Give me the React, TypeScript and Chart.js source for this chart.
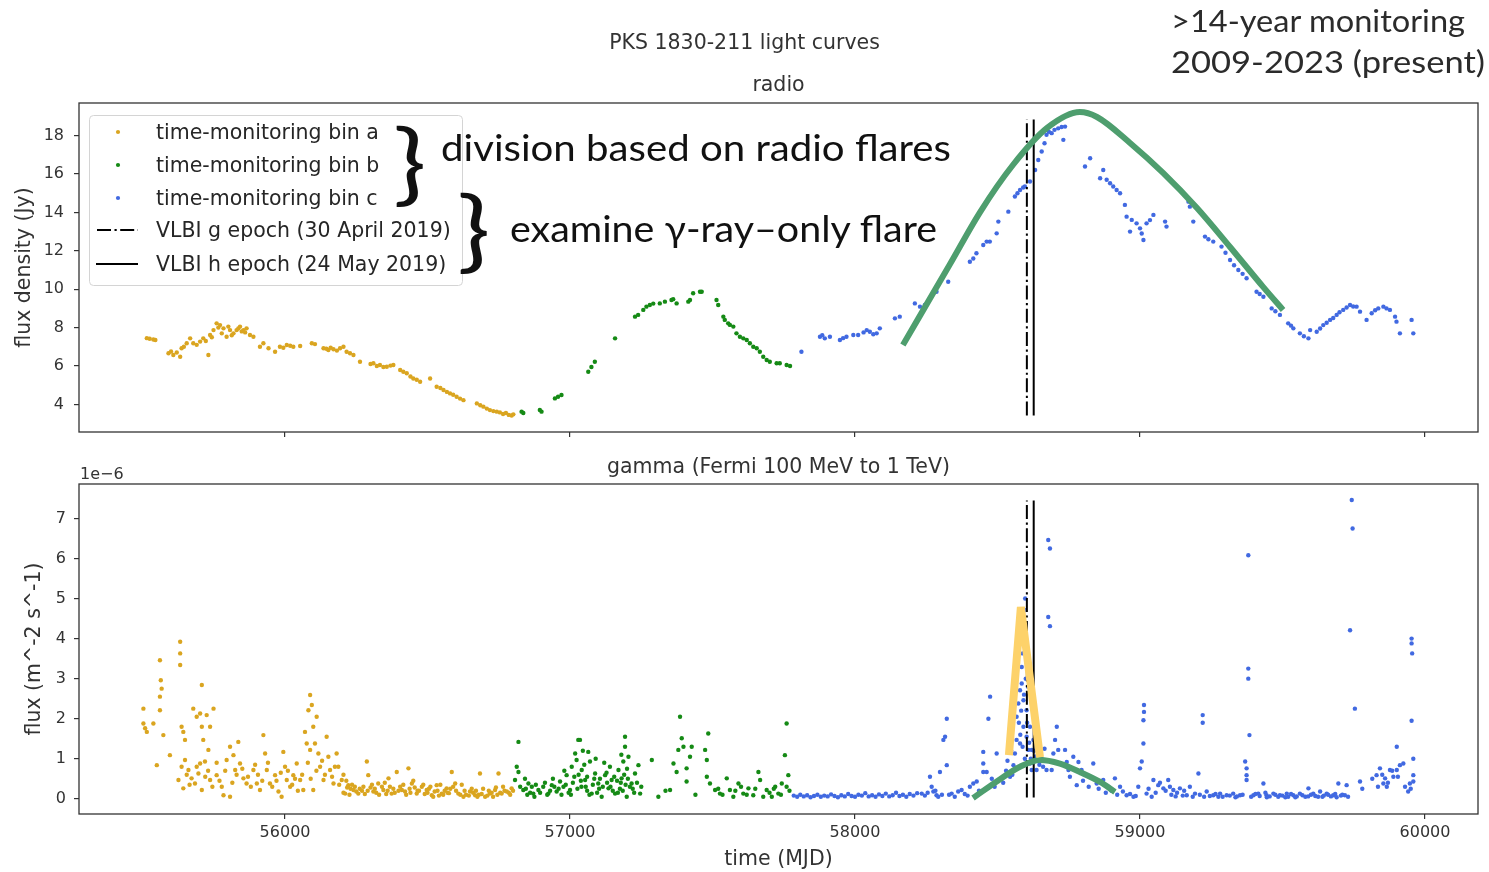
import React, { useEffect, useRef } from "react";
import { Chart, registerables } from "chart.js";

Chart.register(...registerables);

// ---------------- data (MJD, value) ----------------
const radioBinA: [number, number][] = [
  [55515, 7.45], [55525, 7.42], [55538, 7.38], [55545, 7.35],
  [55591, 6.66], [55600, 6.75], [55608, 6.57], [55620, 6.7], [55632, 6.48], [55637, 6.92], [55645, 7.0], [55655, 7.18],
  [55667, 7.44], [55678, 7.18], [55690, 7.1], [55702, 7.27], [55713, 7.44], [55722, 7.3], [55731, 6.57], [55737, 7.61],
  [55743, 7.5], [55749, 7.87], [55760, 8.22], [55766, 8.0], [55772, 8.13], [55778, 7.7], [55784, 7.96], [55795, 7.52],
  [55801, 8.05], [55807, 7.87], [55813, 7.6], [55819, 7.7], [55830, 7.87], [55836, 7.95], [55842, 8.05], [55848, 7.8],
  [55854, 7.87], [55860, 7.75], [55865, 7.96], [55877, 7.61], [55889, 7.52],
  [55912, 7.0], [55924, 7.18], [55942, 6.92], [55965, 6.74], [55982, 7.0], [55994, 6.95], [56006, 7.09], [56018, 7.05],
  [56029, 7.0], [56053, 7.04], [56094, 7.18], [56105, 7.14], [56135, 6.92], [56145, 6.9], [56152, 6.83], [56160, 6.95],
  [56170, 6.87], [56182, 6.8], [56193, 6.92], [56205, 7.0], [56216, 6.74], [56228, 6.66], [56240, 6.57], [56263, 6.22],
  [56300, 6.1], [56310, 6.14], [56322, 6.0], [56333, 6.05], [56345, 5.95], [56357, 5.96], [56370, 6.02], [56380, 6.05],
  [56404, 5.79], [56415, 5.7], [56427, 5.62], [56440, 5.45], [56450, 5.35], [56462, 5.28], [56474, 5.18], [56509, 5.35],
  [56532, 4.92], [56545, 4.85], [56556, 4.75], [56568, 4.65], [56579, 4.57], [56590, 4.5], [56602, 4.4], [56614, 4.3],
  [56626, 4.22], [56673, 4.05], [56685, 3.95], [56696, 3.88], [56708, 3.78], [56719, 3.7], [56731, 3.65], [56743, 3.62],
  [56754, 3.58], [56765, 3.5], [56775, 3.55], [56785, 3.45], [56795, 3.42], [56801, 3.48],
];

const radioBinB: [number, number][] = [
  [56830, 3.62], [56836, 3.55], [56894, 3.71], [56900, 3.62], [56947, 4.31], [56958, 4.4], [56970, 4.49], [57064, 5.7],
  [57075, 5.95], [57087, 6.22], [57158, 7.44], [57228, 8.57], [57239, 8.66], [57257, 8.92], [57268, 9.09], [57280, 9.18],
  [57292, 9.25], [57315, 9.26], [57333, 9.35], [57356, 9.44], [57362, 9.48], [57374, 9.26], [57415, 9.35], [57421, 9.44],
  [57432, 9.79], [57456, 9.87], [57462, 9.87], [57514, 9.44], [57520, 9.18], [57538, 8.57], [57543, 8.4], [57555, 8.22],
  [57561, 8.14], [57573, 8.05], [57584, 7.7], [57596, 7.52], [57608, 7.44], [57620, 7.35], [57631, 7.18], [57643, 7.0],
  [57655, 6.92], [57666, 6.74], [57678, 6.48], [57690, 6.31], [57701, 6.22], [57725, 6.14], [57736, 6.14], [57760, 6.05],
  [57772, 6.0],
];

const radioBinC: [number, number][] = [
  [57812, 6.74], [57877, 7.52], [57885, 7.6], [57894, 7.44], [57912, 7.52], [57947, 7.35], [57958, 7.45], [57970, 7.52],
  [57994, 7.61], [58011, 7.61], [58030, 7.75], [58041, 7.87], [58052, 7.78], [58064, 7.65], [58076, 7.7], [58087, 7.96],
  [58140, 8.48], [58157, 8.57], [58210, 9.26], [58228, 9.09], [58245, 9.18], [58263, 9.52], [58286, 9.87], [58327, 10.39],
  [58403, 11.43], [58415, 11.6], [58426, 11.87], [58450, 12.3], [58462, 12.48], [58473, 12.48], [58497, 12.91],
  [58503, 13.52], [58538, 14.04], [58561, 14.83], [58570, 15.0], [58579, 15.17], [58590, 15.3], [58596, 15.35],
  [58614, 15.61], [58632, 16.21], [58643, 16.73], [58655, 17.17], [58665, 17.6], [58672, 18.04], [58680, 18.2],
  [58690, 18.13], [58700, 18.3], [58713, 18.38], [58725, 18.45], [58737, 18.47], [58731, 17.78], [58807, 16.39],
  [58825, 16.82], [58860, 15.78], [58871, 16.21], [58883, 15.7], [58895, 15.52], [58906, 15.35], [58918, 15.17],
  [58930, 15.0], [58947, 14.39], [58953, 13.78], [58965, 13.0], [58971, 13.61], [58988, 13.43], [59000, 13.17],
  [59006, 12.9], [59012, 12.56], [59023, 13.43], [59035, 13.6], [59047, 13.87], [59088, 13.52], [59093, 13.26],
  [59170, 14.56], [59175, 14.3], [59187, 13.52], [59228, 12.74], [59240, 12.6], [59257, 12.48], [59286, 12.22],
  [59300, 11.9], [59316, 11.52], [59330, 11.25], [59345, 11.0], [59360, 10.8], [59374, 10.57], [59409, 9.87],
  [59420, 9.75], [59433, 9.61], [59462, 9.0], [59475, 8.85], [59491, 8.66], [59520, 8.22], [59530, 8.1], [59538, 7.96],
  [59561, 7.7], [59575, 7.55], [59591, 7.44], [59597, 7.87], [59620, 7.78], [59632, 7.95], [59643, 8.13], [59655, 8.25],
  [59667, 8.4], [59678, 8.5], [59690, 8.66], [59700, 8.8], [59713, 8.92], [59725, 9.05], [59737, 9.18], [59748, 9.1],
  [59760, 9.09], [59772, 8.83], [59795, 8.4], [59813, 8.75], [59825, 8.9], [59836, 9.0], [59854, 9.09], [59865, 9.0],
  [59877, 8.92], [59895, 8.57], [59900, 8.31], [59912, 7.7], [59953, 8.4], [59959, 7.7],
];

// gamma flux in units of 1e-6
const gammaBinA: [number, number][] = [
  [55503, 2.25], [55503, 1.88], [55509, 1.76], [55515, 1.67], [55538, 1.88], [55550, 0.84], [55561, 3.46], [55564, 2.96],
  [55561, 2.55], [55567, 2.75], [55561, 2.21], [55573, 1.59], [55596, 1.09], [55632, 3.92], [55632, 3.63], [55632, 3.34],
  [55637, 1.8], [55643, 1.67], [55649, 1.47], [55649, 0.97], [55637, 0.8], [55661, 0.72], [55626, 0.47], [55643, 0.26],
  [55672, 0.51], [55678, 2.25], [55690, 2.05], [55702, 2.13], [55708, 2.84], [55708, 1.8], [55713, 1.47], [55725, 2.09],
  [55737, 1.8], [55749, 2.25], [55731, 1.22], [55719, 0.93], [55702, 0.88], [55696, 0.63], [55684, 0.38], [55708, 0.22],
  [55737, 0.47], [55760, 0.59], [55778, 0.3], [55784, 0.09], [55807, 0.05], [55795, 0.97], [55807, 1.3], [55819, 1.09],
  [55825, 0.72], [55836, 1.42], [55842, 0.88], [55854, 0.51], [55865, 0.38], [55889, 0.72], [55901, 0.38], [55912, 0.22],
  [55924, 1.59], [55930, 1.13], [55936, 0.72], [55947, 0.38], [55965, 0.59], [55977, 0.18], [55988, 0.05], [55994, 1.17],
  [56000, 0.8], [56006, 0.47], [56018, 0.3], [56029, 0.59], [56041, 0.88], [56053, 0.47], [56064, 0.22], [56070, 1.67],
  [56076, 1.38], [56082, 2.21], [56088, 2.59], [56094, 2.34], [56099, 1.8], [56105, 1.38], [56111, 2.05], [56117, 1.13],
  [56088, 1.22], [56099, 0.22], [56123, 0.8], [56135, 0.47], [56146, 1.55], [56152, 1.05], [56158, 0.72], [56170, 0.38],
  [56181, 1.13], [56187, 0.8], [56199, 0.47], [56211, 0.13], [56222, 0.34], [56240, 0.22], [56257, 0.13], [56275, 0.3],
  [56287, 0.93], [56292, 0.59], [56310, 0.18], [56327, 0.38], [56345, 0.22], [56363, 0.51], [56374, 0.13], [56392, 0.67],
  [56404, 0.3], [56421, 0.18], [56433, 0.76], [56445, 0.38], [56462, 0.13], [56480, 0.3], [56497, 0.22], [56515, 0.09],
  [56532, 0.34], [56550, 0.13], [56567, 0.26], [56585, 0.67], [56597, 0.38], [56608, 0.13], [56626, 0.05], [56649, 0.18],
  [56667, 0.09], [56684, 0.63], [56702, 0.05], [56719, 0.13], [56737, 0.22], [56749, 0.63], [56760, 0.13], [56778, 0.18],
  [56795, 0.26],
  [56230, 0.25], [56250, 0.18], [56270, 0.2], [56300, 0.28], [56320, 0.15], [56340, 0.3], [56355, 0.12], [56380, 0.25],
  [56410, 0.22], [56440, 0.15], [56455, 0.28], [56470, 0.2], [56490, 0.12], [56505, 0.25], [56525, 0.18], [56540, 0.08],
  [56560, 0.2], [56575, 0.14], [56590, 0.3], [56615, 0.1], [56630, 0.2], [56645, 0.08], [56660, 0.15], [56675, 0.05],
  [56690, 0.12], [56710, 0.08], [56725, 0.15], [56745, 0.1], [56770, 0.2], [56785, 0.15],
  [55760, 0.9], [55770, 0.45], [55790, 0.7], [55815, 0.4], [55830, 0.6], [55850, 0.75], [55870, 0.55], [55880, 0.3],
  [55895, 0.85], [55905, 0.6], [55920, 0.45], [55940, 0.9], [55955, 0.3], [55970, 0.45], [55985, 0.65], [56010, 0.7],
  [56025, 0.35], [56035, 0.5], [56045, 0.2], [56060, 0.6], [56080, 0.9], [56090, 0.5], [56110, 0.7], [56130, 0.95],
  [56140, 0.6], [56165, 0.55], [56175, 0.8], [56190, 0.35], [56205, 0.6], [56215, 0.45], [55665, 0.35], [55690, 0.8],
  [55655, 0.6], [55720, 0.55], [55745, 0.3], [55730, 0.7],
  [56205, 0.15], [56218, 0.28], [56226, 0.1], [56235, 0.35], [56245, 0.3], [56262, 0.25], [56280, 0.12], [56290, 0.2],
  [56305, 0.35], [56315, 0.25], [56330, 0.1], [56350, 0.4], [56360, 0.2], [56368, 0.3], [56385, 0.15], [56398, 0.2],
  [56415, 0.35], [56425, 0.1], [56437, 0.25], [56450, 0.45], [56465, 0.2], [56485, 0.35], [56500, 0.15], [56510, 0.3],
  [56520, 0.05], [56535, 0.2], [56545, 0.35], [56555, 0.1], [56570, 0.15], [56580, 0.25], [56600, 0.2], [56620, 0.35],
  [56635, 0.1], [56655, 0.25], [56670, 0.2], [56680, 0.1], [56695, 0.25], [56715, 0.2], [56730, 0.05], [56740, 0.28],
  [56755, 0.15], [56765, 0.3], [56790, 0.1], [56800, 0.2],
];

const gammaBinB: [number, number][] = [
  [56819, 1.42], [56813, 0.8], [56819, 0.67], [56807, 0.47], [56825, 0.3], [56836, 0.22], [56854, 0.38], [56871, 0.13],
  [56889, 0.22], [56906, 0.3], [56924, 0.13], [56936, 0.34], [56953, 0.18], [56965, 0.43], [56977, 0.3], [56988, 0.59],
  [57000, 0.22], [57006, 0.8], [57018, 1.13], [57029, 1.47], [57035, 1.47], [57023, 0.97], [57041, 0.72], [57053, 0.47],
  [57064, 1.17], [57070, 0.93], [57076, 0.13], [57088, 0.63], [57099, 0.38], [57111, 0.05], [57123, 0.59], [57135, 0.26],
  [57146, 0.47], [57158, 0.13], [57170, 0.72], [57181, 0.51], [57187, 0.93], [57193, 1.3], [57193, 1.55], [57199, 0.05],
  [57205, 1.05], [57216, 0.38], [57228, 0.63], [57240, 0.84], [57246, 0.13], [57287, 0.97], [57310, 0.05], [57351, 0.22],
  [57363, 0.88], [57374, 0.67], [57380, 1.22], [57386, 2.05], [57392, 1.51], [57398, 1.3], [57409, 0.43], [57409, 0.76],
  [57421, 1.05], [57427, 1.3], [57480, 0.97], [57474, 1.22], [57485, 1.63], [57480, 0.55], [57491, 0.38], [57509, 0.22],
  [57526, 0.13], [57550, 0.51], [57561, 0.22], [57573, 0.05], [57591, 0.38], [57608, 0.13], [57626, 0.26], [57643, 0.09],
  [57661, 0.67], [57667, 0.47], [57678, 0.05], [57690, 0.22], [57708, 0.05], [57720, 0.3], [57731, 0.13], [57743, 0.38],
  [57754, 1.09], [57760, 1.88], [57766, 0.59], [57760, 0.3],
  [57040, 0.3], [57060, 0.2], [57080, 0.35], [57095, 0.15], [57105, 0.5], [57130, 0.4], [57150, 0.2], [57165, 0.45],
  [57175, 0.25], [57190, 0.6], [57210, 0.3], [57225, 0.15], [57050, 0.85], [57030, 0.6], [57010, 0.4], [56995, 0.15],
  [56980, 0.7], [56960, 0.25], [56940, 0.5], [56930, 0.2], [56880, 0.35], [56860, 0.15], [56845, 0.25], [57140, 0.8],
  [57120, 0.9], [57090, 1.0], [57045, 1.2], [57060, 0.55], [57180, 1.1], [57200, 0.75],
  [56842, 0.5], [56850, 0.1], [56866, 0.3], [56875, 0.05], [56895, 0.15], [56912, 0.4], [56920, 0.1], [56945, 0.3],
  [56970, 0.1], [56985, 0.35], [57003, 0.1], [57015, 0.55], [57026, 0.25], [57038, 0.45], [57055, 0.3], [57068, 0.1],
  [57085, 0.5], [57102, 0.25], [57115, 0.3], [57128, 0.65], [57142, 0.3], [57155, 0.55], [57168, 0.15], [57178, 0.4],
  [57185, 0.2], [57195, 0.35], [57203, 0.5], [57220, 0.25], [57235, 0.4], [57250, 0.3], [57335, 0.2], [57440, 0.1],
  [57520, 0.25], [57535, 0.1], [57580, 0.2], [57600, 0.3], [57620, 0.1], [57650, 0.25], [57700, 0.15], [57715, 0.25],
  [57740, 0.1], [57770, 0.2],
];

const gammaBinC: [number, number][] = [
  [57785, 0.08], [57797, 0.05], [57808, 0.1], [57820, 0.06], [57832, 0.09], [57844, 0.04], [57856, 0.07], [57868, 0.1],
  [57880, 0.05], [57892, 0.08], [57904, 0.06], [57916, 0.11], [57928, 0.07], [57940, 0.04], [57952, 0.09], [57964, 0.06],
  [57976, 0.12], [57988, 0.07], [58000, 0.05], [58012, 0.1], [58024, 0.08], [58036, 0.14], [58048, 0.06], [58060, 0.09],
  [58072, 0.05], [58084, 0.11], [58096, 0.07], [58108, 0.13], [58120, 0.06], [58132, 0.09], [58144, 0.15], [58156, 0.07],
  [58168, 0.1], [58180, 0.05], [58192, 0.12], [58205, 0.08], [58218, 0.14],
  [58234, 0.13], [58263, 0.55], [58269, 0.3], [58275, 0.18], [58286, 0.09], [58298, 0.67], [58310, 1.47], [58316, 1.55],
  [58322, 2.0], [58322, 0.84], [58339, 0.13], [58362, 0.18], [58374, 0.22], [58403, 0.3], [58415, 0.38], [58427, 0.43],
  [58450, 0.67], [58450, 0.88], [58450, 1.17], [58468, 2.0], [58474, 2.55], [58497, 1.13], [58462, 0.67],
  [58544, 0.55], [58556, 0.84], [58561, 1.13], [58567, 1.47], [58567, 2.05], [58573, 2.38], [58579, 2.71], [58585, 2.88],
  [58585, 3.29], [58588, 3.63], [58591, 2.46], [58591, 1.8], [58579, 1.38], [58597, 5.0], [58597, 4.71], [58602, 2.21],
  [58602, 1.55], [58608, 1.22], [58614, 0.88], [58614, 1.8], [58620, 1.22], [58626, 1.47], [58620, 0.72], [58632, 1.05],
  [58637, 0.72], [58672, 0.72], [58678, 6.46], [58684, 6.25], [58678, 4.54], [58684, 4.31], [58690, 0.72], [58696, 1.13],
  [58702, 1.47], [58708, 1.8], [58713, 1.22], [58719, 0.88], [58737, 1.22], [58743, 0.92], [58749, 0.72], [58754, 0.55],
  [58766, 1.05], [58778, 0.34], [58784, 0.92], [58795, 0.72], [58813, 0.59], [58836, 0.88], [58848, 0.38], [58871, 0.47],
  [58889, 0.3], [58912, 0.51], [58930, 0.3], [58953, 0.09], [58977, 0.05], [58994, 0.3], [59000, 0.76], [59006, 0.93],
  [59012, 1.38], [59012, 1.96], [59014, 2.17], [59014, 2.34], [59023, 0.13], [59041, 0.05], [59047, 0.47], [59064, 0.34],
  [59082, 0.26], [59099, 0.47], [59117, 0.22], [59140, 0.26], [59164, 0.09], [59175, 0.3], [59193, 0.13], [59205, 0.63],
  [59220, 2.09], [59220, 1.9], [59234, 0.18], [59257, 0.09], [59281, 0.13], [59304, 0.09], [59327, 0.13], [59351, 0.09],
  [59369, 0.93], [59374, 0.76], [59374, 0.59], [59374, 0.47], [59380, 6.08], [59380, 3.25], [59380, 3.0], [59384, 1.59],
  [59398, 0.09], [59415, 0.13], [59433, 0.38], [59444, 0.09], [59468, 0.13], [59491, 0.09], [59515, 0.13], [59538, 0.09],
  [59561, 0.13], [59591, 0.26], [59608, 0.13], [59632, 0.18], [59655, 0.13], [59678, 0.09], [59696, 0.38], [59719, 0.09],
  [59725, 0.34], [59737, 4.21], [59743, 7.46], [59746, 6.75], [59754, 2.25], [59772, 0.43], [59830, 0.59], [59842, 0.76],
  [59854, 0.38], [59860, 0.51], [59866, 0.3], [59877, 0.72], [59889, 0.55], [59901, 1.3], [59901, 0.72], [59912, 0.84],
  [59924, 0.88], [59941, 0.18], [59947, 0.38], [59953, 4.0], [59953, 3.88], [59955, 3.63], [59953, 1.95], [59959, 1.0],
  [59959, 0.59], [59959, 0.43],
  [59110, 0.1], [59125, 0.06], [59150, 0.08], [59185, 0.05], [59210, 0.1], [59245, 0.07], [59265, 0.12], [59290, 0.05],
  [59315, 0.08], [59340, 0.06], [59360, 0.1], [59390, 0.05], [59405, 0.12], [59420, 0.07], [59440, 0.15], [59455, 0.06],
  [59475, 0.1], [59485, 0.05], [59500, 0.08], [59520, 0.05], [59530, 0.12], [59550, 0.06], [59570, 0.09], [59580, 0.05],
  [59600, 0.1], [59615, 0.07], [59625, 0.05], [59645, 0.08], [59660, 0.1], [59670, 0.06], [59685, 0.12], [59705, 0.08],
  [59730, 0.05],
  [58575, 1.9], [58580, 1.6], [58583, 2.2], [58588, 1.3], [58593, 2.6], [58596, 1.0], [58599, 3.0], [58604, 1.9],
  [58607, 2.8], [58611, 1.4], [58617, 1.0], [58622, 0.9], [58628, 1.2], [58635, 0.95], [58641, 1.1], [58647, 0.85],
  [58655, 1.0], [58660, 0.8], [58665, 1.25],
  [58245, 0.08], [58255, 0.15], [58282, 0.2], [58292, 0.05], [58305, 0.1], [58330, 0.1], [58350, 0.05], [58385, 0.12],
  [58395, 0.08], [58435, 0.2], [58480, 0.5], [58490, 0.3], [58520, 0.4], [58530, 0.7], [58535, 0.95], [58548, 1.2],
  [58552, 0.6], [58800, 0.45], [58820, 0.3], [58855, 0.25], [58880, 0.15], [58900, 0.2], [58920, 0.1], [58940, 0.18],
  [58965, 0.12], [58985, 0.07], [59030, 0.25], [59055, 0.15], [59070, 0.4], [59090, 0.2], [59105, 0.3], [59130, 0.15],
  [59155, 0.2], [59225, 0.05], [59275, 0.05], [59335, 0.04], [59445, 0.04], [59510, 0.04], [59545, 0.04], [59590, 0.06],
  [59640, 0.05], [59690, 0.04], [59710, 0.1], [59780, 0.25], [59815, 0.5], [59835, 0.3], [59850, 0.6], [59870, 0.4],
  [59885, 0.7], [59905, 0.55], [59930, 0.3], [59950, 0.25],
];

// VLBI epochs (MJD): 30 April 2019, 24 May 2019
const vlbiEpochs: number[] = [58603, 58627];

// hand-drawn annotation guides (MJD, value)
const radioFlareGuide: [number, number][] = [
  [58168, 7.09], [58333, 11.3], [58439, 14.02], [58554, 16.47], [58674, 18.4], [58789, 19.23], [58849, 18.97],
  [58965, 17.62], [59081, 16.06], [59200, 14.23], [59316, 12.2], [59432, 10.12], [59502, 8.92],
];
const gammaBumpGuide: [number, number][] = [
  [58414, 0.02], [58509, 0.49], [58579, 0.8], [58649, 0.97], [58719, 0.88], [58789, 0.67], [58860, 0.42], [58912, 0.17],
];
const gammaSpikeGuide: [number, number][] = [[58540, 1.09], [58582, 4.79], [58649, 1.04]];

const xTicks: number[] = [56000, 57000, 58000, 59000, 60000];
const radioTicks: number[] = [4, 6, 8, 10, 12, 14, 16, 18];
const gammaTicks: number[] = [0, 1, 2, 3, 4, 5, 6, 7];
const legendLabels: string[] = [
  "time-monitoring bin a",
  "time-monitoring bin b",
  "time-monitoring bin c",
  "VLBI g epoch (30 April 2019)",
  "VLBI h epoch (24 May 2019)",
];

// ---------------- style ----------------
const X_MIN = 55277;
const X_MAX = 60186;
const RADIO_MIN = 2.56;
const RADIO_MAX = 19.7;
const GAMMA_MIN = -0.38;
const GAMMA_MAX = 7.86;
const FONT = "'DejaVu Sans', sans-serif";
const INK = "#333";
const COL_A = "#DAA520";
const COL_B = "#158a15";
const COL_C = "#4169E1";
const GUIDE_GREEN = "#4E9E6E";
const GUIDE_YELLOW = "#FDD26A";
const DASHDOT = [14, 3.5, 2.2, 3.5];

const pts = (a: [number, number][]) => a.map(([x, y]) => ({ x, y }));

function scatterDs(a: [number, number][], color: string) {
  return {
    type: "scatter",
    data: pts(a),
    backgroundColor: color,
    borderColor: color,
    borderWidth: 0,
    pointRadius: 2.2,
    pointHoverRadius: 2.2,
    order: 5,
  };
}

function vlineDs(x: number, lo: number, hi: number, dash: number[]) {
  const a = lo + 0.05 * (hi - lo);
  const b = lo + 0.95 * (hi - lo);
  return {
    type: "line",
    data: [{ x, y: a }, { x, y: b }],
    borderColor: "#000",
    borderWidth: 2,
    borderDash: dash,
    pointRadius: 0,
    showLine: true,
    tension: 0,
    order: 3,
  };
}

function guideDs(a: [number, number][], color: string, width: number, smooth: boolean, order: number) {
  return {
    type: "line",
    data: pts(a),
    borderColor: color,
    borderWidth: width,
    pointRadius: 0,
    showLine: true,
    tension: smooth ? 0.4 : 0,
    cubicInterpolationMode: smooth ? "monotone" : "default",
    borderJoinStyle: "bevel",
    borderCapStyle: "butt",
    order,
  };
}

function xScale(bottom: boolean) {
  return {
    type: "linear",
    min: X_MIN,
    max: X_MAX,
    afterBuildTicks: (s: any) => {
      s.ticks = xTicks.map((v) => ({ value: v }));
    },
    afterFit: (s: any) => {
      s.height = bottom ? 58 : 5;
    },
    ticks: {
      display: bottom,
      autoSkip: false,
      maxRotation: 0,
      padding: 4,
      color: INK,
      font: { family: FONT, size: 16 },
      callback: (v: any) => String(v),
    },
    grid: { drawOnChartArea: false, drawTicks: true, tickLength: 5, color: INK, lineWidth: 1.2 },
    border: { display: false },
    title: bottom
      ? { display: true, text: "time (MJD)", color: INK, font: { family: FONT, size: 20.5 }, padding: { top: 0, bottom: 0 } }
      : { display: false },
  };
}

function yScale(min: number, max: number, ticks: number[], title: string, titlePad: number, tickPad: number) {
  return {
    type: "linear",
    min,
    max,
    afterBuildTicks: (s: any) => {
      s.ticks = ticks.map((v) => ({ value: v }));
    },
    afterFit: (s: any) => {
      s.width = 79;
      s.paddingTop = 0;
      s.paddingBottom = 0;
    },
    ticks: {
      autoSkip: false,
      padding: tickPad,
      color: INK,
      font: { family: FONT, size: 16 },
      callback: (v: any) => String(v),
    },
    grid: { drawOnChartArea: false, drawTicks: true, tickLength: 5, color: INK, lineWidth: 1.2 },
    border: { display: false },
    title: { display: true, text: title, color: INK, font: { family: FONT, size: 20.5 }, padding: { top: titlePad, bottom: 0 } },
  };
}

function decorPlugin(kind: "radio" | "gamma") {
  return {
    id: "decor-" + kind,
    afterDraw(chart: any) {
      const { ctx, chartArea: a } = chart;
      ctx.save();
      ctx.strokeStyle = INK;
      ctx.lineWidth = 1.3;
      ctx.strokeRect(a.left, a.top, a.right - a.left, a.bottom - a.top);
      ctx.fillStyle = INK;
      ctx.textBaseline = "middle";
      ctx.textAlign = "center";
      ctx.font = `20.5px ${FONT}`;
      const cx = (a.left + a.right) / 2;
      if (kind === "radio") {
        ctx.fillText("PKS 1830-211 light curves", chart.width / 2, 44);
        ctx.fillText("radio", cx, a.top - 17);
        // legend
        const bx = a.left + 10, by = a.top + 12, bw = 373, bh = 170;
        ctx.beginPath();
        ctx.roundRect(bx + 0.5, by + 0.5, bw, bh, 4);
        ctx.fillStyle = "rgba(255,255,255,0.8)";
        ctx.fill();
        ctx.strokeStyle = "#d4d4d4";
        ctx.lineWidth = 1;
        ctx.stroke();
        const rows = [29, 62, 95, 127, 161].map((d) => a.top + d);
        const cols = [COL_A, COL_B, COL_C];
        for (let i = 0; i < 3; i++) {
          ctx.beginPath();
          ctx.arc(a.left + 39, rows[i], 2.1, 0, Math.PI * 2);
          ctx.fillStyle = cols[i];
          ctx.fill();
        }
        ctx.strokeStyle = "#000";
        ctx.lineWidth = 2;
        ctx.setLineDash(DASHDOT);
        ctx.beginPath();
        ctx.moveTo(a.left + 18, rows[3]);
        ctx.lineTo(a.left + 59, rows[3]);
        ctx.stroke();
        ctx.setLineDash([]);
        ctx.beginPath();
        ctx.moveTo(a.left + 17, rows[4]);
        ctx.lineTo(a.left + 59, rows[4]);
        ctx.stroke();
        ctx.fillStyle = "#262626";
        ctx.textAlign = "left";
        legendLabels.forEach((t, i) => ctx.fillText(t, a.left + 77, rows[i] + 2));
      } else {
        ctx.fillText("gamma (Fermi 100 MeV to 1 TeV)", cx, a.top - 16);
        ctx.textAlign = "left";
        ctx.font = `16px ${FONT}`;
        ctx.fillText("1e\u22126", a.left + 1, a.top - 9);
      }
      ctx.restore();
    },
  };
}

function baseOptions(padding: any, scales: any) {
  return {
    responsive: false,
    animation: false,
    devicePixelRatio: 1,
    layout: { padding },
    plugins: { legend: { display: false }, tooltip: { enabled: false }, title: { display: false } },
    events: [],
    scales,
  };
}

export default function App() {
  const topRef = useRef<HTMLCanvasElement>(null);
  const botRef = useRef<HTMLCanvasElement>(null);

  useEffect(() => {
    const top = new Chart(topRef.current as HTMLCanvasElement, {
      type: "scatter",
      data: {
        datasets: [
          guideDs(radioFlareGuide, GUIDE_GREEN, 6, true, 1),
          vlineDs(vlbiEpochs[0], RADIO_MIN, RADIO_MAX, DASHDOT),
          vlineDs(vlbiEpochs[1], RADIO_MIN, RADIO_MAX, []),
          scatterDs(radioBinA, COL_A),
          scatterDs(radioBinB, COL_B),
          scatterDs(radioBinC, COL_C),
        ] as any,
      },
      options: baseOptions(
        { top: 103, left: 0, right: 11, bottom: 8 },
        {
          x: xScale(false),
          y: yScale(RADIO_MIN, RADIO_MAX, radioTicks, "flux density (Jy)", 12, 10),
        }
      ) as any,
      plugins: [decorPlugin("radio")],
    });

    const bot = new Chart(botRef.current as HTMLCanvasElement, {
      type: "scatter",
      data: {
        datasets: [
          guideDs(gammaSpikeGuide, GUIDE_YELLOW, 8, false, 0),
          guideDs(gammaBumpGuide, GUIDE_GREEN, 6, true, 1),
          vlineDs(vlbiEpochs[0], GAMMA_MIN, GAMMA_MAX, DASHDOT),
          vlineDs(vlbiEpochs[1], GAMMA_MIN, GAMMA_MAX, []),
          scatterDs(gammaBinA, COL_A),
          scatterDs(gammaBinB, COL_B),
          scatterDs(gammaBinC, COL_C),
        ] as any,
      },
      options: baseOptions(
        { top: 39, left: 0, right: 11, bottom: 0 },
        {
          x: xScale(true),
          y: yScale(GAMMA_MIN, GAMMA_MAX, gammaTicks, "flux (m^-2 s^-1)", 22, 8),
        }
      ) as any,
      plugins: [decorPlugin("gamma")],
    });

    return () => {
      top.destroy();
      bot.destroy();
    };
  }, []);

  const ann = { fontFamily: "Lato, 'Open Sans', sans-serif" };
  return (
    <div style={{ position: "absolute", left: 0, top: 0, width: 1489, height: 872, background: "#fff", overflow: "hidden" }}>
      <canvas ref={topRef} width={1489} height={445} style={{ position: "absolute", left: 0, top: 0 }} />
      <canvas ref={botRef} width={1489} height={427} style={{ position: "absolute", left: 0, top: 445 }} />
      <svg width={1489} height={872} style={{ position: "absolute", left: 0, top: 0, pointerEvents: "none" }}>
        <g style={ann}>
          <text x={1171} y={32} fontSize={30} fill="#2b2b2b" textLength={294} lengthAdjust="spacingAndGlyphs">
            {">14-year monitoring"}
          </text>
          <text x={1171} y={73} fontSize={30} fill="#2b2b2b" textLength={314} lengthAdjust="spacingAndGlyphs">
            2009-2023 (present)
          </text>
          <text x={441} y={161} fontSize={36} fill="#111" textLength={510} lengthAdjust="spacingAndGlyphs">
            division based on radio flares
          </text>
          <text x={510} y={242} fontSize={36} fill="#111" textLength={427} lengthAdjust="spacingAndGlyphs">
            examine γ-ray–only flare
          </text>
          <text transform="translate(393,194) scale(1.25,1)" fontSize={89} fill="#111">{"}"}</text>
          <text transform="translate(457,261) scale(1.25,1)" fontSize={89} fill="#111">{"}"}</text>
        </g>
      </svg>
    </div>
  );
}
